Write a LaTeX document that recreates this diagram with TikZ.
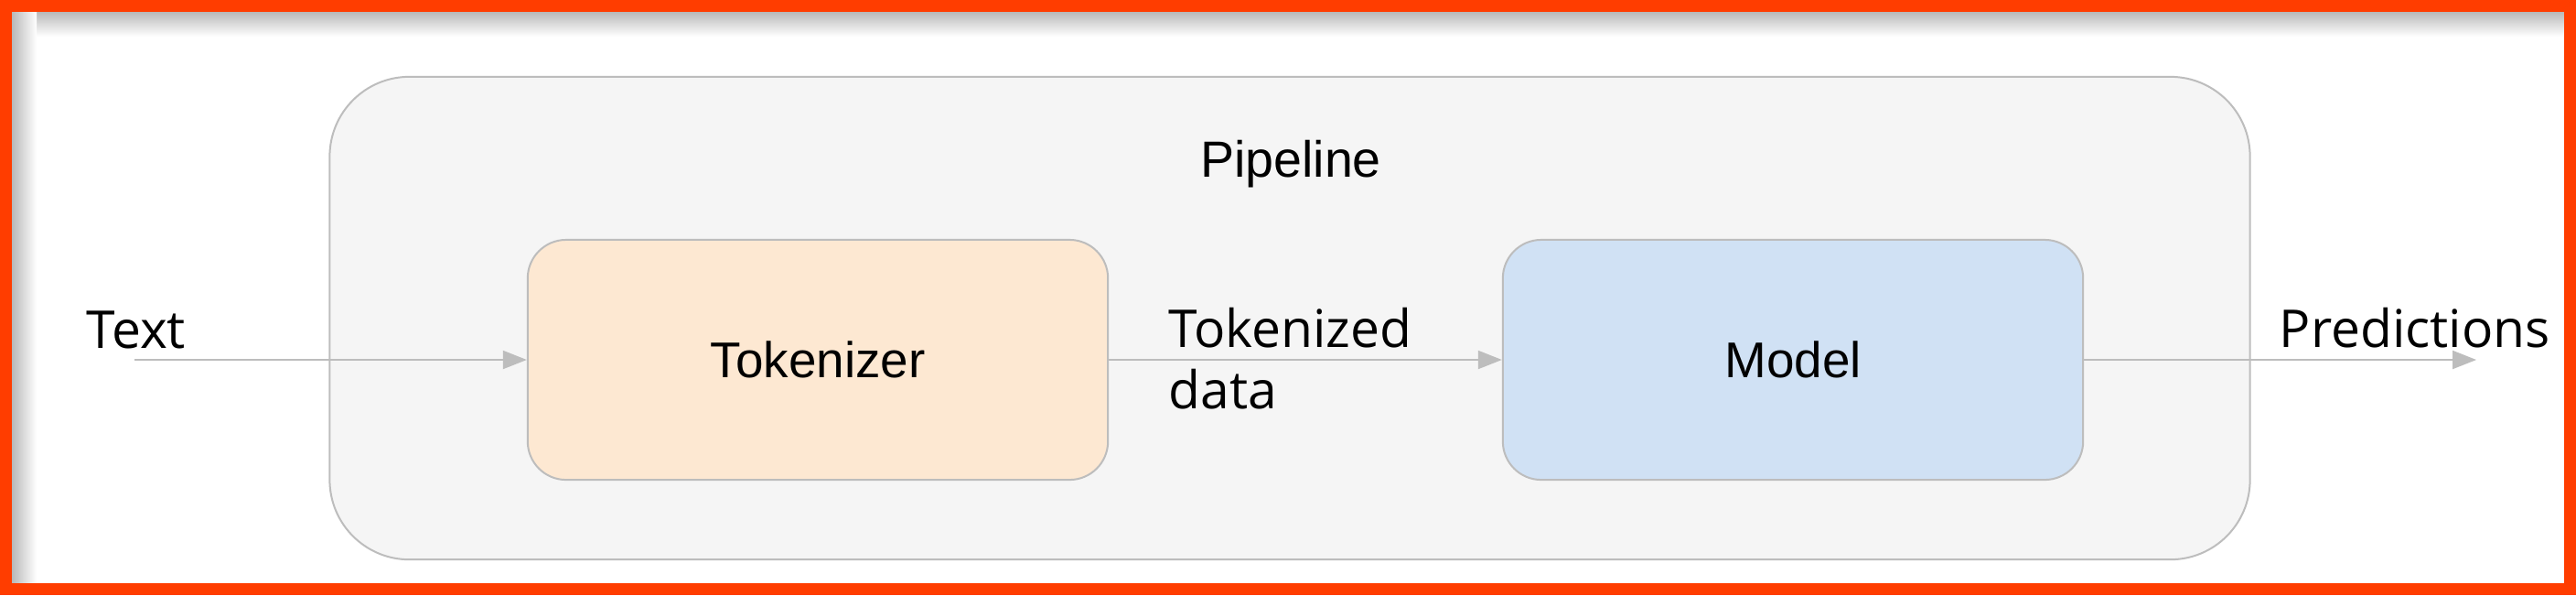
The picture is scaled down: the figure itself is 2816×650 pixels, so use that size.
\documentclass[tikz,border=0pt]{standalone}
\usepackage{fontspec}
\setmainfont{Liberation Sans}
\newfontfamily\edgefont{Open Sans}
\usetikzlibrary{arrows.meta}
\definecolor{framered}{HTML}{FF3D00}
\definecolor{pipefill}{HTML}{F5F5F5}
\definecolor{tokfill}{HTML}{FDE8D2}
\definecolor{modfill}{HTML}{D0E1F4}
\definecolor{linegray}{HTML}{BDBDBD}
\tikzset{
  stage/.style={rectangle, rounded corners=0.42cm, draw=linegray, line width=0.02cm,
    minimum width=6.34cm, minimum height=2.62cm, font=\fontsize{15.6pt}{18pt}\selectfont},
  flow/.style={draw=linegray, line width=0.02cm, -{Triangle[length=0.26cm,width=0.2cm]}},
  edgelabel/.style={inner sep=0pt, font=\edgefont\fontsize{16.2pt}{19pt}\selectfont}
}

\begin{document}
\begin{tikzpicture}[x=0.01cm, y=-0.01cm]
    \useasboundingbox (0,0) rectangle (2816,650);
    \fill[white] (0,0) rectangle (2816,650);
    % frame with its inner shadow
    \shade[top color=gray!55, bottom color=white] (13,13) rectangle (2803,40);
    \shade[left color=gray!55, right color=white] (13,13) rectangle (40,637);
    \draw[framered, line width=0.13cm] (6.5,6.5) rectangle (2809.5,643.5);

    \node[rectangle, rounded corners=0.87cm, draw=linegray, fill=pipefill, line width=0.02cm,
        minimum width=20.98cm, minimum height=5.27cm] (pipeline) at (1410,347.5) {};
    \node[anchor=base, font=\fontsize{15.8pt}{18pt}\selectfont] (pipelabel) at (1411,193) {Pipeline};

    \node[stage, fill=tokfill] (tokenizer) at (894,393) {Tokenizer};
    \node[stage, fill=modfill] (model) at (1960,393) {Model};

    \coordinate (in) at (147,393);
    \coordinate (out) at (2707,393);
    \draw[flow] (in) -- (tokenizer);
    \draw[flow] (tokenizer) -- (model);
    \draw[flow] (model) -- (out);

    \node[edgelabel, anchor=base west] (textlabel) at (94,380) {Text};
    \node[edgelabel, anchor=west, align=left] (toklabel) at (1277,392) {Tokenized\\data};
    \node[edgelabel, anchor=base west] (predlabel) at (2491,379) {Predictions};
\end{tikzpicture}
\end{document}
